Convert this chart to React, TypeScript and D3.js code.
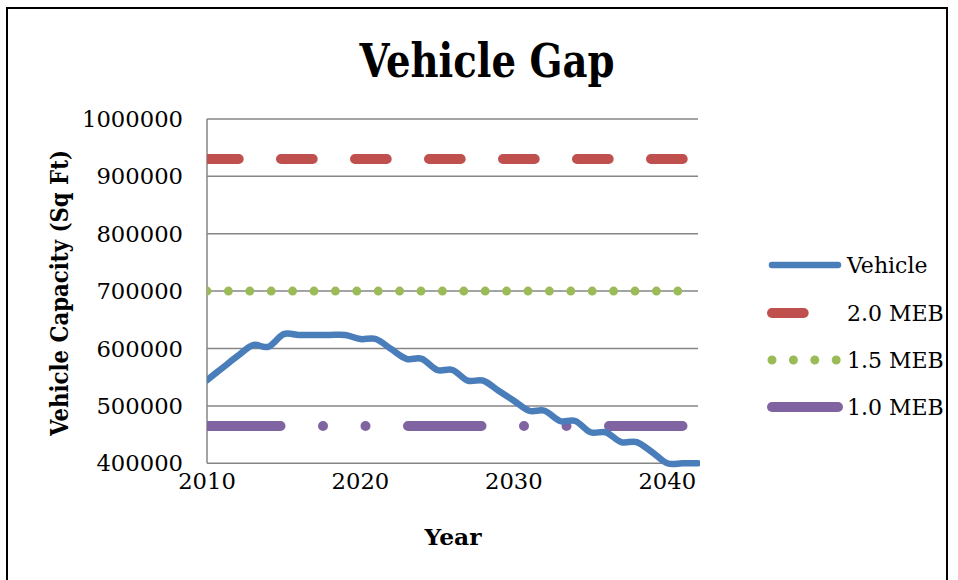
import React from "react";
import * as d3 from "d3";

// Years on the category axis and the values of each series
const years: number[] = d3.range(2010, 2043);
const vehicle: number[] = [
  545000, 566000, 587000, 606000, 603000, 625000, 623500, 623500, 623500, 623500,
  616500, 616500, 599000, 582000, 582000, 562500, 562500, 544000, 544000, 526500,
  509000, 491600, 491600, 473700, 473700, 454000, 454000, 437000, 437000, 419700,
  400000, 400000, 400000,
];
const meb20: number[] = years.map(() => 930000);
const meb15: number[] = years.map(() => 700000);
const meb10: number[] = years.map(() => 465000);
const yTicks: number[] = [400000, 500000, 600000, 700000, 800000, 900000, 1000000];
const xTicks: number[] = [2010, 2020, 2030, 2040];

const W = 958;
const H = 580;
const left = 207;
const right = 698;
const top = 118.9;
const bottom = 463.3;

const font = "'DejaVu Serif', serif";

type Series = {
  name: string;
  values: number[];
  color: string;
  width: number;
  dash?: string;
  smooth?: boolean;
};

const series: Series[] = [
  { name: "Vehicle", values: vehicle, color: "#4A7EBB", width: 6.5, smooth: true },
  { name: "2.0 MEB", values: meb20, color: "#C0504D", width: 10, dash: "31.7 42.3" },
  { name: "1.5 MEB", values: meb15, color: "#9BBB59", width: 9, dash: "0 21.4" },
  { name: "1.0 MEB", values: meb10, color: "#8064A2", width: 10, dash: "73.5 42.5 0 42.5 0 42.5" },
];

export default function App() {
  const x = d3.scalePoint<number>().domain(years).range([left, right]);
  const y = d3.scaleLinear().domain([400000, 1000000]).range([bottom, top]);

  const makeLine = (smooth?: boolean) =>
    d3
      .line<number>()
      .x((_, i) => x(years[i]) as number)
      .y((d) => y(d))
      .curve(smooth ? d3.curveCardinal.tension(0) : d3.curveLinear);

  const legendX0 = 772;
  const legendX1 = 838;
  const legendRows = [265, 313, 360, 407];

  return (
    <svg
      width={W}
      height={H}
      viewBox={`0 0 ${W} ${H}`}
      style={{ position: "absolute", left: 0, top: 0, display: "block", background: "#fff" }}
    >
      <defs>
        <clipPath id="plotClip">
          <rect x={left} y={0} width={right + 2 - left} height={H} />
        </clipPath>
      </defs>

      {/* chart frame */}
      <rect x={7} y={8} width={940} height={600} fill="#fff" stroke="#000" strokeWidth={2} />

      {/* title */}
      <text
        x={487}
        y={77}
        textAnchor="middle"
        fontFamily={font}
        fontWeight="bold"
        fontSize={46}
        textLength={255}
        lengthAdjust="spacingAndGlyphs"
        fill="#000"
      >
        Vehicle Gap
      </text>

      {/* gridlines */}
      {yTicks.map((t) => (
        <line key={t} x1={left} x2={right} y1={y(t)} y2={y(t)} stroke="#868686" strokeWidth={1.5} />
      ))}
      {/* value axis line */}
      <line x1={left} x2={left} y1={top} y2={bottom} stroke="#868686" strokeWidth={1.5} />

      {/* y tick labels */}
      {yTicks.map((t) => (
        <text
          key={`yl${t}`}
          x={183}
          y={y(t)}
          dy="0.36em"
          textAnchor="end"
          fontFamily={font}
          fontSize={22.7}
          fill="#000"
        >
          {t}
        </text>
      ))}

      {/* x tick labels */}
      {xTicks.map((t) => (
        <text
          key={`xl${t}`}
          x={x(t) as number}
          y={481}
          dy="0.36em"
          textAnchor="middle"
          fontFamily={font}
          fontSize={22.7}
          fill="#000"
        >
          {t}
        </text>
      ))}

      {/* axis titles */}
      <text
        transform="translate(68,293) rotate(-90)"
        textAnchor="middle"
        fontFamily={font}
        fontWeight="bold"
        fontSize={24.5}
        textLength={286}
        lengthAdjust="spacingAndGlyphs"
        fill="#000"
      >
        Vehicle Capacity (Sq Ft)
      </text>
      <text
        x={453}
        y={545}
        textAnchor="middle"
        fontFamily={font}
        fontWeight="bold"
        fontSize={23}
        textLength={57}
        lengthAdjust="spacingAndGlyphs"
        fill="#000"
      >
        Year
      </text>

      {/* series */}
      <g clipPath="url(#plotClip)">
        {series
          .slice()
          .reverse()
          .map((s) => (
            <path
              key={s.name}
              d={makeLine(s.smooth)(s.values) || ""}
              fill="none"
              stroke={s.color}
              strokeWidth={s.width}
              strokeLinecap="round"
              strokeLinejoin="round"
              strokeDasharray={s.dash}
            />
          ))}
      </g>

      {/* legend */}
      {series.map((s, i) => (
        <g key={`lg${s.name}`}>
          <line
            x1={legendX0}
            x2={legendX1}
            y1={legendRows[i]}
            y2={legendRows[i]}
            stroke={s.color}
            strokeWidth={s.width}
            strokeLinecap="round"
            strokeDasharray={s.dash}
          />
          <text
            x={847}
            y={legendRows[i]}
            dy="0.36em"
            fontFamily={font}
            fontSize={22}
            fill="#000"
          >
            {s.name}
          </text>
        </g>
      ))}
    </svg>
  );
}
